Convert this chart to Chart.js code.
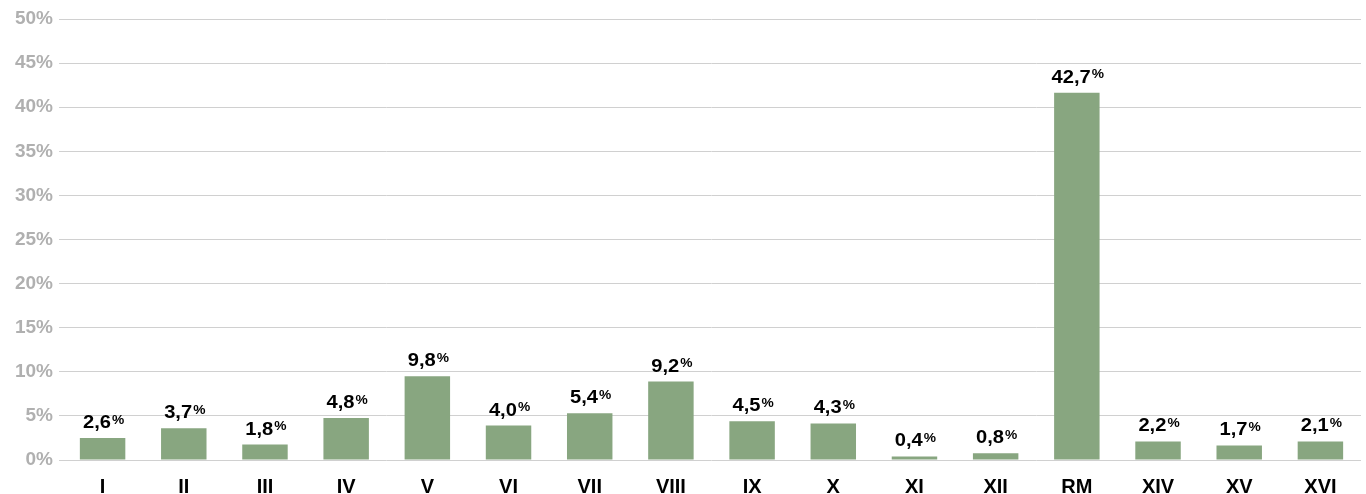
<!DOCTYPE html>
<html>
<head>
<meta charset="utf-8">
<script src="https://cdn.jsdelivr.net/npm/chart.js@4.4.1/dist/chart.umd.min.js"></script>
<style>
  html, body { margin: 0; padding: 0; background: #ffffff; }
  #wrap { width: 1366px; height: 494px; position: relative; }
</style>
</head>
<body>
<div id="wrap"><canvas id="c"></canvas></div>
<script>
// ---- data ----
const categories = ['I','II','III','IV','V','VI','VII','VIII','IX','X','XI','XII','RM','XIV','XV','XVI'];
const barValues  = [2.5, 3.6, 1.75, 4.75, 9.5, 3.9, 5.3, 8.9, 4.4, 4.15, 0.4, 0.77, 41.65, 2.1, 1.65, 2.1];
const valueLabels = ['2,6','3,7','1,8','4,8','9,8','4,0','5,4','9,2','4,5','4,3','0,4','0,8','42,7','2,2','1,7','2,1'];
const yTicks = [0, 5, 10, 15, 20, 25, 30, 35, 40, 45, 50];

const FONT = '"Liberation Sans", Arial, Helvetica, sans-serif';

const valueLabelPlugin = {
  id: 'valueLabelPlugin',
  afterDatasetsDraw(chart) {
    const ctx = chart.ctx;
    const meta = chart.getDatasetMeta(0);
    const sx = 1.06;
    const numSize = 19, pctSize = 13;
    const numFont = 'bold ' + numSize + 'px ' + FONT;
    const pctFont = 'bold ' + pctSize + 'px ' + FONT;
    meta.data.forEach((bar, i) => {
      const txt = valueLabels[i];
      ctx.save();
      ctx.font = numFont;
      const wNum = ctx.measureText(txt).width;
      ctx.font = pctFont;
      const wPct = ctx.measureText('%').width;
      const total = (wNum + 1 + wPct) * sx;
      const x0 = bar.x - total / 2 + 1;
      const base = Math.min(bar.y, bar.base) - 10;
      ctx.translate(x0, base);
      ctx.scale(sx, 1);
      ctx.fillStyle = '#000000';
      ctx.textBaseline = 'alphabetic';
      ctx.textAlign = 'left';
      ctx.font = numFont;
      ctx.fillText(txt, 0, 0);
      ctx.font = pctFont;
      ctx.fillText('%', wNum + 1, -(numSize * 0.716 - pctSize * 0.716));
      ctx.restore();
    });
  }
};

new Chart(document.getElementById('c'), {
  type: 'bar',
  data: {
    labels: categories,
    datasets: [{
      data: barValues,
      backgroundColor: '#88a680',
      borderWidth: 0,
      categoryPercentage: 1.0,
      barPercentage: 0.56
    }]
  },
  options: {
    responsive: true,
    maintainAspectRatio: false,
    animation: false,
    events: [],
    layout: { padding: { top: 19, right: 5, left: 0, bottom: 0 } },
    plugins: { legend: { display: false }, tooltip: { enabled: false } },
    scales: {
      x: {
        grid: { display: false, drawTicks: false },
        border: { display: false },
        ticks: {
          color: '#000000',
          font: { family: FONT, size: 20, weight: 'bold' },
          padding: 15,
          maxRotation: 0,
          autoSkip: false
        },
        afterFit(scale) { scale.height = 34; }
      },
      y: {
        min: 0,
        max: 50,
        afterBuildTicks(scale) { scale.ticks = yTicks.map(v => ({ value: v })); },
        grid: { color: '#d0d0d0', lineWidth: 1, drawTicks: true, tickLength: 3, tickColor: '#d0d0d0' },
        border: { display: false },
        ticks: {
          color: '#b0b0b0',
          font: { family: FONT, size: 19, weight: 'bold' },
          padding: 6,
          callback: (v) => v + '%'
        },
        afterFit(scale) { scale.width = 62; }
      }
    }
  },
  plugins: [valueLabelPlugin]
});
</script>
</body>
</html>
